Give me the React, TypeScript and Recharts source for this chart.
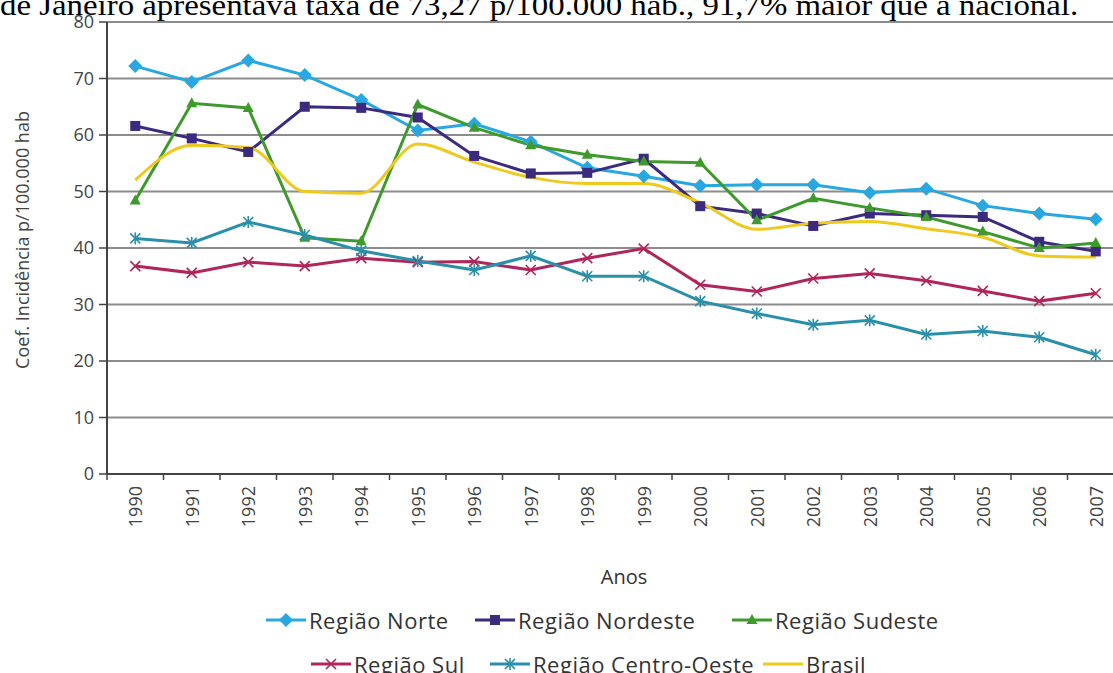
import React from "react";
import {
  LineChart,
  Line,
  XAxis,
  YAxis,
  CartesianGrid,
  Label,
} from "recharts";

const YEARS = [
  "1990", "1991", "1992", "1993", "1994", "1995", "1996", "1997", "1998",
  "1999", "2000", "2001", "2002", "2003", "2004", "2005", "2006", "2007",
];

const NORTE = [72.2, 69.4, 73.2, 70.6, 66.2, 60.8, 62.0, 58.8, 54.2, 52.7, 51.0, 51.2, 51.2, 49.8, 50.5, 47.5, 46.1, 45.1];
const NORDESTE = [61.6, 59.4, 57.0, 65.0, 64.8, 63.1, 56.3, 53.2, 53.3, 55.8, 47.4, 46.1, 43.9, 46.1, 45.8, 45.5, 41.1, 39.4];
const SUDESTE = [48.4, 65.6, 64.8, 41.8, 41.2, 65.4, 61.3, 58.2, 56.5, 55.3, 55.1, 44.9, 48.8, 47.1, 45.5, 42.9, 40.0, 40.9];
const SUL = [36.8, 35.6, 37.5, 36.8, 38.2, 37.5, 37.6, 36.1, 38.2, 39.9, 33.5, 32.3, 34.6, 35.5, 34.2, 32.4, 30.6, 32.0];
const CENTRO_OESTE = [41.7, 40.9, 44.6, 42.3, 39.5, 37.7, 36.1, 38.6, 35.0, 35.0, 30.6, 28.4, 26.4, 27.2, 24.7, 25.3, 24.2, 21.1];
const BRASIL = [52.0, 58.2, 57.8, 50.0, 49.7, 58.4, 55.2, 52.5, 51.4, 51.4, 48.0, 43.3, 44.4, 44.7, 43.4, 41.9, 38.6, 38.4];

const Y_TICKS = [0, 10, 20, 30, 40, 50, 60, 70, 80];

const TOP_TEXT =
  "de Janeiro apresentava taxa de 73,27 p/100.000 hab., 91,7% maior que a nacional.";

const COLORS = {
  norte: "#29A7E0",
  nordeste: "#3B2A7E",
  sudeste: "#3E9A2C",
  sul: "#B0265A",
  centroOeste: "#2A8FA9",
  brasil: "#EFC91C",
};

const data = YEARS.map((year, i) => ({
  year,
  norte: NORTE[i],
  nordeste: NORDESTE[i],
  sudeste: SUDESTE[i],
  sul: SUL[i],
  centroOeste: CENTRO_OESTE[i],
  brasil: BRASIL[i],
}));

const FONT = "'Open Sans', 'Noto Sans', sans-serif";

// marker shapes
const diamond = (cx: number, cy: number, c: string) => (
  <polygon
    points={`${cx},${cy - 7} ${cx + 7},${cy} ${cx},${cy + 7} ${cx - 7},${cy}`}
    fill={c}
  />
);
const square = (cx: number, cy: number, c: string) => (
  <rect x={cx - 5} y={cy - 5} width={10} height={10} fill={c} />
);
const triangle = (cx: number, cy: number, c: string) => (
  <polygon
    points={`${cx},${cy - 6} ${cx + 5.5},${cy + 4} ${cx - 5.5},${cy + 4}`}
    fill={c}
  />
);
const cross = (cx: number, cy: number, c: string) => (
  <g stroke={c} strokeWidth={1.6}>
    <line x1={cx - 5} y1={cy - 5} x2={cx + 5} y2={cy + 5} />
    <line x1={cx - 5} y1={cy + 5} x2={cx + 5} y2={cy - 5} />
  </g>
);
const star = (cx: number, cy: number, c: string) => (
  <g stroke={c} strokeWidth={1.6}>
    <line x1={cx - 5} y1={cy - 5} x2={cx + 5} y2={cy + 5} />
    <line x1={cx - 5} y1={cy + 5} x2={cx + 5} y2={cy - 5} />
    <line x1={cx} y1={cy - 6} x2={cx} y2={cy + 6} />
  </g>
);

type Marker = (cx: number, cy: number, c: string) => React.ReactElement;

const makeDot = (m: Marker, c: string, name: string) => (p: any) => (
  <g key={`${name}-${p.index}`}>{m(p.cx, p.cy, c)}</g>
);

const SERIES: { key: keyof typeof COLORS; name: string; marker: Marker | null }[] = [
  { key: "norte", name: "Região Norte", marker: diamond },
  { key: "nordeste", name: "Região Nordeste", marker: square },
  { key: "sudeste", name: "Região Sudeste", marker: triangle },
  { key: "sul", name: "Região Sul", marker: cross },
  { key: "centroOeste", name: "Região Centro-Oeste", marker: star },
  { key: "brasil", name: "Brasil", marker: null },
];

const BAND = (1124 - 107) / YEARS.length;

const YearTick = (props: any) => {
  const { x, y, payload, index } = props;
  return (
    <g transform={`translate(${x},${y})`}>
      <line x1={-BAND / 2} y1={0} x2={-BAND / 2} y2={6} stroke="#444" strokeWidth={1.5} />
      {index === YEARS.length - 1 && (
        <line x1={BAND / 2} y1={0} x2={BAND / 2} y2={6} stroke="#444" strokeWidth={1.5} />
      )}
      <text
        transform="rotate(-90)"
        x={-12}
        y={0}
        textAnchor="end"
        dominantBaseline="central"
        fontSize={18}
        fontFamily={FONT}
        fill="#444"
      >
        {payload.value}
      </text>
    </g>
  );
};

// legend positions (left of icon, row)
const LEGEND_POS: { [k: string]: [number, number] } = {
  norte: [265, 620],
  nordeste: [474, 620],
  sudeste: [731, 620],
  sul: [310, 664],
  centroOeste: [489, 664],
  brasil: [762, 664],
};

const LegendIcon = ({ color, marker }: { color: string; marker: Marker | null }) => (
  <svg width={42} height={16} style={{ display: "block" }}>
    <line x1={1} y1={8} x2={41} y2={8} stroke={color} strokeWidth={3} />
    {marker && marker(21, 8, color)}
  </svg>
);

export default function App() {
  return (
    <div
      style={{
        position: "absolute",
        left: 0,
        top: 0,
        width: 1113,
        height: 673,
        overflow: "hidden",
        background: "#fff",
      }}
    >
      <div
        style={{
          position: "absolute",
          left: 0,
          top: -10,
          whiteSpace: "nowrap",
          fontFamily: "'Liberation Serif', 'DejaVu Serif', serif",
          fontSize: 30,
          lineHeight: "30px",
          transform: "scaleX(1.095)",
          transformOrigin: "0 0",
          color: "#000",
        }}
      >
        {TOP_TEXT}
      </div>
      <div style={{ position: "absolute", left: 0, top: 0 }}>
        <LineChart
          width={1150}
          height={673}
          data={data}
          margin={{ top: 22, right: 26, left: 0, bottom: 0 }}
        >
          <CartesianGrid vertical={false} stroke="#8c8c8c" strokeWidth={2} />
          <XAxis
            dataKey="year"
            interval={0}
            height={199}
            padding={{ left: BAND / 2, right: BAND / 2 }}
            tick={<YearTick />}
            tickLine={false}
            tickSize={0}
            tickMargin={0}
            axisLine={{ stroke: "#444", strokeWidth: 2 }}
          >
            <Label
              content={() => (
                <text
                  x={624}
                  y={576}
                  textAnchor="middle"
                  dominantBaseline="central"
                  fontSize={20}
                  fontFamily={FONT}
                  fill="#333"
                >
                  Anos
                </text>
              )}
            />
          </XAxis>
          <YAxis
            domain={[0, 80]}
            ticks={Y_TICKS}
            interval={0}
            width={107}
            tickSize={8}
            tickMargin={5}
            tick={{ fontSize: 18, fontFamily: FONT, fill: "#444" }}
            tickLine={{ stroke: "#444", strokeWidth: 1.5 }}
            axisLine={{ stroke: "#444", strokeWidth: 2 }}
          >
            <Label
              content={() => (
                <text
                  x={22}
                  y={240}
                  transform="rotate(-90 22 240)"
                  textAnchor="middle"
                  dominantBaseline="central"
                  fontSize={18}
                  fontFamily={FONT}
                  fill="#444"
                >
                  Coef. Incidência p/100.000 hab
                </text>
              )}
            />
          </YAxis>
          {SERIES.map((s) => (
            <Line
              key={s.key}
              dataKey={s.key}
              name={s.name}
              type={s.marker ? "linear" : "monotone"}
              stroke={COLORS[s.key]}
              strokeWidth={3}
              dot={s.marker ? makeDot(s.marker, COLORS[s.key], s.key) : false}
              activeDot={false}
              isAnimationActive={false}
            />
          ))}
        </LineChart>
      </div>
      {SERIES.map((s) => {
        const [lx, ly] = LEGEND_POS[s.key];
        return (
          <div
            key={s.key}
            style={{
              position: "absolute",
              left: lx,
              top: ly - 13,
              height: 26,
              display: "flex",
              alignItems: "center",
              fontFamily: FONT,
              fontSize: 22,
              letterSpacing: 0.5,
              color: "#333",
              whiteSpace: "nowrap",
            }}
          >
            <LegendIcon color={COLORS[s.key]} marker={s.marker} />
            <span style={{ marginLeft: 2 }}>{s.name}</span>
          </div>
        );
      })}
    </div>
  );
}
